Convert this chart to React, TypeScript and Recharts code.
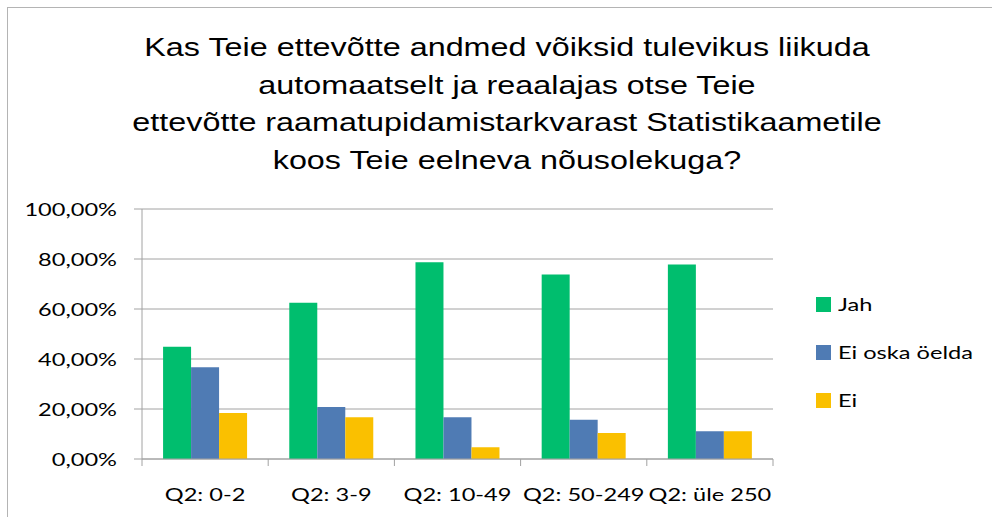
import React from 'react';
import {
    BarChart,
    Bar,
    XAxis,
    YAxis,
    CartesianGrid,
} from 'recharts';

const categories = ['Q2: 0-2', 'Q2: 3-9', 'Q2: 10-49', 'Q2: 50-249', 'Q2: üle 250'];
const jah = [0.449, 0.625, 0.787, 0.738, 0.778];
const eiOskaOelda = [0.367, 0.208, 0.167, 0.157, 0.111];
const ei = [0.184, 0.167, 0.047, 0.104, 0.111];
const yTicks = [0, 0.2, 0.4, 0.6, 0.8, 1];
const titleLines = [
    'Kas Teie ettevõtte andmed võiksid tulevikus liikuda',
    'automaatselt ja reaalajas otse Teie',
    'ettevõtte raamatupidamistarkvarast Statistikaametile',
    'koos Teie eelneva nõusolekuga?',
];

const series = [
    { key: 'jah', name: 'Jah', color: '#00BE6E' },
    { key: 'eiOska', name: 'Ei oska öelda', color: '#4F7BB4' },
    { key: 'ei', name: 'Ei', color: '#FAC000' },
];

const data = categories.map((name, i) => ({
    name,
    jah: jah[i],
    eiOska: eiOskaOelda[i],
    ei: ei[i],
}));

const W = 992;
const H = 517;
const PLOT_LEFT = 142;
const PLOT_RIGHT = 773;
const BAND = (PLOT_RIGHT - PLOT_LEFT) / categories.length;
const AXIS_COLOR = '#a2a2a2';
const LABEL_FONT = 'Lato, "Open Sans", sans-serif';
const LABEL_SIZE = 18;
// the reference is stretched horizontally, so text gets widened to match
const STRETCH = 1.31;

const fmtPct = (v: number) => (v * 100).toFixed(2).replace('.', ',') + '%';

const XTick = (props: any) => {
    const { x, y, payload, index } = props;
    const half = BAND / 2;
    return (
        <g>
            <line x1={x - half} y1={y} x2={x - half} y2={y + 7} stroke={AXIS_COLOR} />
            {index === categories.length - 1 && (
                <line x1={x + half} y1={y} x2={x + half} y2={y + 7} stroke={AXIS_COLOR} />
            )}
            <text
                x={0}
                y={0}
                transform={`translate(${x},${y + 42}) scale(${STRETCH},1)`}
                textAnchor="middle"
                fill="#000"
                fontSize={LABEL_SIZE}
                fontFamily={LABEL_FONT}
            >
                {payload.value}
            </text>
        </g>
    );
};

const YTick = (props: any) => {
    const { x, y, payload } = props;
    return (
        <text
            x={0}
            y={0}
            transform={`translate(${x},${y}) scale(${STRETCH},1)`}
            textAnchor="end"
            dominantBaseline="central"
            fill="#000"
            fontSize={LABEL_SIZE}
            fontFamily={LABEL_FONT}
        >
            {fmtPct(payload.value)}
        </text>
    );
};

const ChartLegend = () => (
    <div
        style={{
            position: 'absolute',
            left: 816,
            top: 280,
            fontFamily: LABEL_FONT,
            fontSize: LABEL_SIZE,
            color: '#000',
        }}
    >
        {series.map(s => (
            <div key={s.key} style={{ display: 'flex', alignItems: 'center', height: 48 }}>
                <span style={{ width: 15, height: 15, background: s.color, marginRight: 7, flex: 'none' }} />
                <span style={{ display: 'inline-block', transform: `scaleX(${STRETCH})`, transformOrigin: 'left center', whiteSpace: 'nowrap' }}>
                    {s.name}
                </span>
            </div>
        ))}
    </div>
);

export default function App() {
    return (
        <div style={{ position: 'fixed', left: 0, top: 0, width: W, height: H, overflow: 'hidden', background: '#fff' }}>
            <div
                style={{
                    position: 'absolute',
                    left: 7,
                    top: 7,
                    width: 1100,
                    height: 700,
                    border: '1px solid #b4b4b4',
                }}
            />
            <div
                style={{
                    position: 'absolute',
                    left: 0,
                    width: 1014,
                    top: 29,
                    textAlign: 'center',
                    fontFamily: '"Liberation Sans", Arial, sans-serif',
                    fontSize: 26.5,
                    lineHeight: '37.5px',
                    color: '#000',
                    transform: 'scaleX(1.22)',
                    transformOrigin: '507px 0',
                }}
            >
                {titleLines.map(l => (
                    <div key={l}>{l}</div>
                ))}
            </div>
            <div style={{ position: 'absolute', left: 0, top: 0 }}>
                <BarChart
                    width={W}
                    height={H}
                    data={data}
                    margin={{ top: 209, right: W - PLOT_RIGHT, bottom: 18, left: PLOT_LEFT - 110 }}
                    barCategoryGap="16.7%"
                    barGap={0}
                >
                    <CartesianGrid vertical={false} stroke={AXIS_COLOR} />
                    <XAxis
                        dataKey="name"
                        height={40}
                        tickLine={false}
                        tickSize={0}
                        tickMargin={0}
                        axisLine={{ stroke: AXIS_COLOR }}
                        tick={<XTick />}
                        interval={0}
                    />
                    <YAxis
                        width={110}
                        domain={[0, 1]}
                        ticks={yTicks}
                        interval={0}
                        tickSize={8}
                        tickMargin={17}
                        axisLine={{ stroke: AXIS_COLOR }}
                        tickLine={{ stroke: AXIS_COLOR }}
                        tick={<YTick />}
                    />
                    {series.map(s => (
                        <Bar
                            key={s.key}
                            dataKey={s.key}
                            name={s.name}
                            fill={s.color}
                            isAnimationActive={false}
                        />
                    ))}
                </BarChart>
            </div>
            <ChartLegend />
        </div>
    );
}
